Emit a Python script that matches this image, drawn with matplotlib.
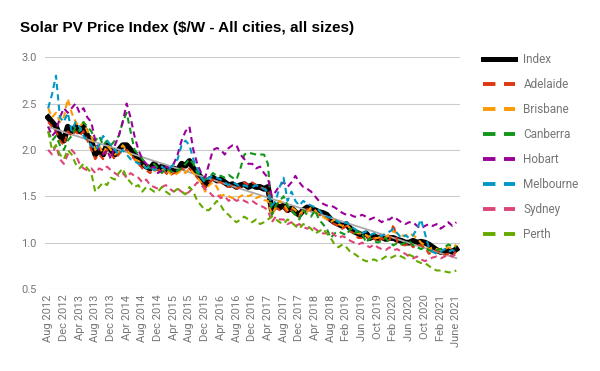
import numpy as np
import pandas as pd
import matplotlib.pyplot as plt
from matplotlib.lines import Line2D

# monthly points, Aug 2012 - Jun 2021 (no Sep/Oct 2018 data)
months = pd.date_range('2012-08-01', '2021-06-01', freq='MS')
months = [m for m in months if not (m.year == 2018 and m.month in (9, 10))]
month_labels = [m.strftime('%b %Y') for m in months]
month_labels[-1] = 'June 2021'

index = [2.35, 2.30, 2.25, 2.15, 2.10, 2.25, 2.20, 2.25, 2.20, 2.25, 2.15, 2.10,
         1.95, 2.00, 1.95, 2.05, 2.00, 1.95, 2.00, 2.05, 2.05, 2.00, 1.95, 1.90,
         1.85, 1.82, 1.80, 1.85, 1.80, 1.82, 1.80, 1.78, 1.80, 1.78, 1.85, 1.83,
         1.88, 1.80, 1.75, 1.70, 1.62, 1.68, 1.70, 1.67, 1.68, 1.65, 1.62, 1.63,
         1.60, 1.62, 1.63, 1.60, 1.62, 1.60, 1.60, 1.58, 1.60, 1.35, 1.40, 1.38,
         1.40, 1.35, 1.37, 1.33, 1.30, 1.35, 1.38, 1.36, 1.35, 1.33, 1.32, 1.30,
         1.25, 1.22, 1.20, 1.18, 1.20, 1.15, 1.12, 1.10, 1.08, 1.10, 1.05, 1.07,
         1.05, 1.06, 1.04, 1.05, 1.05, 1.03, 1.02, 1.00, 1.00, 1.02, 1.00, 1.01,
         1.00, 0.98, 0.95, 0.92, 0.90, 0.90, 0.92, 0.90, 0.93]

adelaide = [2.30, 2.25, 2.20, 2.10, 2.05, 2.20, 2.15, 2.20, 2.15, 2.20, 2.10, 2.00,
            1.90, 1.95, 1.90, 2.00, 1.95, 1.90, 1.95, 2.00, 2.00, 1.95, 1.90, 1.85,
            1.80, 1.78, 1.75, 1.80, 1.78, 1.80, 1.75, 1.72, 1.75, 1.75, 1.80, 1.78,
            1.80, 1.75, 1.70, 1.65, 1.60, 1.65, 1.68, 1.65, 1.65, 1.62, 1.60, 1.62,
            1.58, 1.60, 1.65, 1.62, 1.65, 1.62, 1.60, 1.58, 1.58, 1.30, 1.38, 1.35,
            1.38, 1.32, 1.35, 1.30, 1.28, 1.33, 1.36, 1.35, 1.33, 1.30, 1.28, 1.27,
            1.22, 1.20, 1.18, 1.15, 1.18, 1.12, 1.10, 1.05, 1.05, 1.08, 1.02, 1.05,
            1.00, 1.05, 1.02, 1.03, 1.20, 1.00, 0.98, 0.97, 1.00, 0.95, 0.98, 0.97,
            0.95, 0.88, 0.90, 0.92, 0.88, 0.87, 0.88, 0.87, 0.90]

brisbane = [2.45, 2.35, 2.40, 2.30, 2.35, 2.55, 2.40, 2.30, 2.25, 2.30, 2.20, 2.15,
            2.00, 2.05, 1.95, 2.05, 2.00, 1.95, 1.98, 2.05, 2.00, 1.95, 1.90, 1.88,
            1.85, 1.80, 1.82, 1.78, 1.75, 1.78, 1.80, 1.75, 1.72, 1.75, 1.78, 1.75,
            1.80, 1.75, 1.70, 1.65, 1.55, 1.62, 1.65, 1.60, 1.50, 1.52, 1.50, 1.48,
            1.47, 1.50, 1.52, 1.50, 1.52, 1.48, 1.50, 1.46, 1.45, 1.30, 1.38, 1.45,
            1.42, 1.35, 1.38, 1.35, 1.30, 1.35, 1.33, 1.38, 1.35, 1.30, 1.28, 1.25,
            1.22, 1.25, 1.20, 1.18, 1.20, 1.15, 1.12, 1.10, 1.10, 1.08, 1.06, 1.05,
            1.05, 1.07, 1.05, 1.10, 1.12, 1.10, 1.08, 1.07, 1.10, 1.08, 1.05, 1.00,
            0.97, 0.93, 0.95, 0.93, 0.92, 0.93, 0.95, 0.93, 0.98]

canberra = [2.20, 2.10, 2.15, 2.05, 2.00, 2.10, 2.15, 2.25, 2.20, 2.30, 2.25, 2.20,
            2.10, 2.15, 2.05, 2.10, 2.05, 2.10, 2.15, 2.30, 2.40, 2.20, 2.00, 1.95,
            1.90, 1.85, 1.80, 1.85, 1.80, 1.75, 1.80, 1.78, 1.75, 1.78, 1.80, 1.85,
            1.90, 1.85, 1.75, 1.72, 1.68, 1.70, 1.75, 1.72, 1.72, 1.70, 1.73, 1.70,
            1.68, 1.80, 1.95, 1.97, 1.96, 1.95, 1.95, 1.95, 1.85, 1.30, 1.40, 1.45,
            1.50, 1.40, 1.35, 1.30, 1.25, 1.35, 1.30, 1.28, 1.35, 1.25, 1.20, 1.15,
            1.05, 1.10, 1.12, 1.10, 1.08, 1.15, 1.10, 1.12, 1.10, 1.00, 1.05, 1.02,
            1.00, 1.02, 1.05, 1.00, 0.97, 1.00, 0.98, 1.00, 1.02, 0.97, 0.95, 0.93,
            0.95, 0.92, 0.90, 0.92, 0.93, 0.95, 0.98, 0.96, 0.95]

hobart = [2.25, 2.15, 2.20, 2.35, 2.45, 2.40, 2.45, 2.50, 2.40, 2.45, 2.35, 2.30,
          2.10, 2.00, 1.95, 2.00, 1.90, 2.05, 2.15, 2.30, 2.50, 2.35, 2.15, 2.00,
          1.90, 1.85, 1.80, 1.82, 1.75, 1.78, 1.82, 1.80, 1.85, 1.95, 2.10, 2.20,
          2.25, 2.00, 1.85, 1.75, 1.70, 1.85, 2.00, 2.02, 2.00, 1.95, 2.02, 2.05,
          2.05, 1.95, 1.90, 1.85, 1.85, 1.80, 1.82, 1.75, 1.70, 1.50, 1.55, 1.62,
          1.65, 1.60, 1.65, 1.72, 1.65, 1.60, 1.58, 1.55, 1.50, 1.45, 1.42, 1.40,
          1.40, 1.38, 1.35, 1.32, 1.30, 1.30, 1.28, 1.28, 1.30, 1.28, 1.25, 1.27,
          1.25, 1.22, 1.25, 1.25, 1.28, 1.25, 1.22, 1.20, 1.22, 1.22, 1.18, 1.15,
          1.18, 1.20, 1.18, 1.20, 1.15, 1.18, 1.22, 1.18, 1.22]

melbourne = [2.45, 2.60, 2.80, 2.35, 2.30, 2.40, 2.20, 2.30, 2.25, 2.15, 2.10, 2.05,
             2.00, 2.05, 2.15, 2.10, 2.05, 2.00, 1.95, 2.00, 1.95, 1.90, 1.88, 1.85,
             1.85, 1.80, 1.82, 1.78, 1.80, 1.82, 1.78, 1.80, 1.85, 1.90, 2.05, 2.10,
             2.05, 1.90, 1.80, 1.70, 1.65, 1.70, 1.72, 1.70, 1.68, 1.65, 1.62, 1.65,
             1.63, 1.60, 1.62, 1.60, 1.60, 1.62, 1.60, 1.58, 1.55, 1.40, 1.45, 1.60,
             1.70, 1.45, 1.55, 1.45, 1.40, 1.45, 1.42, 1.40, 1.38, 1.35, 1.30, 1.28,
             1.27, 1.25, 1.22, 1.20, 1.22, 1.18, 1.15, 1.12, 1.10, 1.12, 1.08, 1.10,
             1.08, 1.07, 1.10, 1.12, 1.15, 1.10, 1.05, 1.08, 1.05, 1.08, 1.15, 1.25,
             1.10, 0.95, 0.90, 0.88, 0.90, 0.93, 0.90, 0.92, 0.90]

sydney = [2.00, 1.95, 2.05, 1.90, 1.85, 1.95, 2.00, 1.95, 1.85, 1.80, 1.78, 1.80,
          1.75, 1.80, 1.78, 1.82, 1.78, 1.75, 1.72, 1.75, 1.70, 1.75, 1.72, 1.70,
          1.65, 1.68, 1.62, 1.60, 1.58, 1.60, 1.62, 1.58, 1.55, 1.58, 1.55, 1.52,
          1.55, 1.60, 1.65, 1.62, 1.58, 1.55, 1.50, 1.52, 1.48, 1.50, 1.45, 1.48,
          1.45, 1.47, 1.45, 1.43, 1.45, 1.42, 1.40, 1.38, 1.35, 1.22, 1.28, 1.25,
          1.25, 1.20, 1.22, 1.18, 1.20, 1.17, 1.15, 1.18, 1.15, 1.12, 1.10, 1.10,
          1.12, 1.08, 1.05, 1.07, 1.05, 1.02, 1.00, 0.98, 1.00, 0.97, 0.95, 0.98,
          0.95, 0.93, 0.92, 0.95, 0.92, 0.93, 0.90, 0.88, 0.85, 0.83, 0.85, 0.82,
          0.80, 0.82, 0.84, 0.85, 0.83, 0.85, 0.87, 0.85, 0.88]

perth = [2.20, 2.00, 2.05, 1.95, 1.90, 2.00, 1.95, 1.85, 1.80, 1.85, 1.80, 1.75,
         1.55, 1.60, 1.65, 1.62, 1.70, 1.68, 1.75, 1.80, 1.70, 1.65, 1.60, 1.62,
         1.55, 1.60, 1.58, 1.55, 1.55, 1.60, 1.55, 1.52, 1.55, 1.58, 1.55, 1.52,
         1.60, 1.55, 1.45, 1.40, 1.35, 1.35, 1.40, 1.45, 1.40, 1.33, 1.30, 1.25,
         1.22, 1.25, 1.28, 1.25, 1.22, 1.25, 1.20, 1.22, 1.25, 1.28, 1.25, 1.22,
         1.20, 1.25, 1.22, 1.18, 1.15, 1.20, 1.18, 1.15, 1.10, 1.12, 1.15, 1.10,
         1.05, 0.98, 0.95, 0.98, 0.95, 0.90, 0.88, 0.85, 0.82, 0.80, 0.80, 0.82,
         0.80, 0.82, 0.85, 0.83, 0.85, 0.87, 0.85, 0.83, 0.87, 0.85, 0.80, 0.78,
         0.78, 0.75, 0.72, 0.70, 0.70, 0.69, 0.68, 0.68, 0.70]

cities = ['Adelaide', 'Brisbane', 'Canberra', 'Hobart', 'Melbourne', 'Sydney', 'Perth']
city_data = [adelaide, brisbane, canberra, hobart, melbourne, sydney, perth]
colors = ['#dc3912', '#ff9900', '#109618', '#990099', '#0099c6', '#dd4477', '#66aa00']

plt.rcParams['font.family'] = ['Roboto', 'DejaVu Sans']

x = np.arange(len(index))
fig = plt.figure(figsize=(6, 3.71), dpi=100)
ax = fig.add_axes([0.075, 0.221, 0.692, 0.625])

ax.plot(x, index, color='black', lw=4.2, zorder=2)
for name, vals, c in zip(cities, city_data, colors):
    ax.plot(x, vals, color=c, lw=1.5, dashes=(3, 2), zorder=4)

# linear trendline of the index
coef = np.polyfit(x, index, 1)
ax.plot(x, np.polyval(coef, x), color='#aaaaaa', lw=1.3, zorder=3)

ax.set_ylim(0.5, 3.0)
ax.set_yticks([0.5, 1.0, 1.5, 2.0, 2.5, 3.0])
ax.set_yticklabels(['0.5', '1.0', '1.5', '2.0', '2.5', '3.0'])
ax.set_xlim(-0.8, 105.0)
ax.set_xticks(x[::4])
ax.set_xticklabels(month_labels[::4], rotation=90)
ax.tick_params(axis='both', length=0, labelsize=8, labelcolor='#757575')
ax.tick_params(axis='y', pad=6)
ax.tick_params(axis='x', pad=4)
ax.grid(axis='y', color='#cccccc', lw=0.8)
ax.set_axisbelow(True)
for s in ax.spines.values():
    s.set_visible(False)

# legend with long two-dash samples
handles = [Line2D([], [], color='black', lw=3.6)]
for c in colors:
    handles.append(Line2D([], [], color=c, lw=2.8, dashes=(3.2, 2.2)))
leg = ax.legend(handles, ['Index'] + cities, loc='upper left',
                bbox_to_anchor=(1.03, 1.065), frameon=False,
                fontsize=8.5, handlelength=2.7, labelspacing=1.02, handletextpad=0.7)
for t in leg.get_texts():
    t.set_color('#757575')

fig.text(0.033, 0.925, 'Solar PV Price Index ($/W - All cities, all sizes)',
         fontsize=11, fontweight='bold', family='Liberation Sans', va='center')

fig.savefig('out.png', dpi=100)
